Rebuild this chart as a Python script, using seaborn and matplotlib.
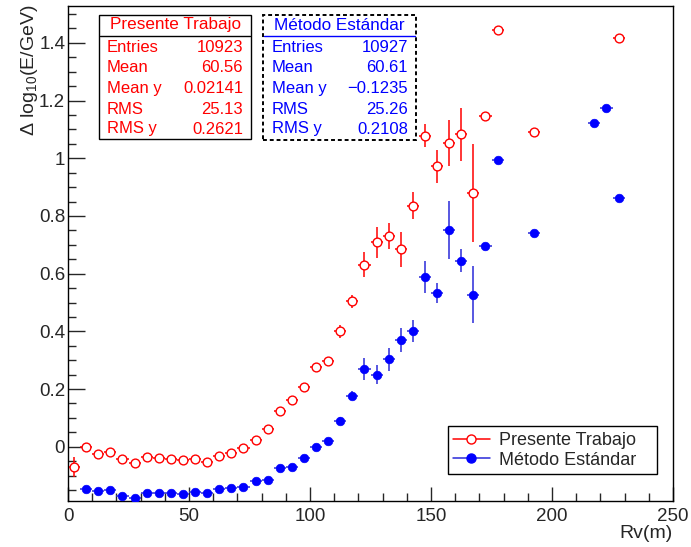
import numpy as np
import pandas as pd
import matplotlib
matplotlib.use("Agg")
import matplotlib.pyplot as plt
from matplotlib.lines import Line2D
from matplotlib.patches import Rectangle
import seaborn as sns

# ---------------- data ----------------
x_red = [2.5, 7.5, 12.5, 17.5, 22.5, 27.5, 32.5, 37.5, 42.5, 47.5, 52.5, 57.5,
         62.5, 67.5, 72.5, 77.5, 82.5, 87.5, 92.5, 97.5, 102.5, 107.5, 112.5,
         117.5, 122.5, 127.5, 132.5, 137.5, 142.5, 147.5, 152.5, 157.5, 162.5,
         167.5, 172.5, 177.5, 192.5, 227.5]
y_red = [-0.071, -0.002, -0.025, -0.017, -0.044, -0.058, -0.035, -0.039, -0.044,
         -0.046, -0.044, -0.052, -0.032, -0.021, -0.006, 0.023, 0.060, 0.124,
         0.162, 0.206, 0.277, 0.298, 0.400, 0.504, 0.631, 0.709, 0.730, 0.684,
         0.836, 1.078, 0.973, 1.054, 1.083, 0.879, 1.146, 1.444, 1.092, 1.416]
e_red = [0.035, 0.014, 0.012, 0.012, 0.012, 0.012, 0.012, 0.012, 0.012, 0.012,
         0.012, 0.012, 0.012, 0.012, 0.012, 0.012, 0.012, 0.012, 0.012, 0.012,
         0.013, 0.014, 0.023, 0.023, 0.043, 0.053, 0.046, 0.061, 0.047, 0.040,
         0.057, 0.079, 0.092, 0.170, 0.004, 0.003, 0.003, 0.003]

x_blue = [7.5, 12.5, 17.5, 22.5, 27.5, 32.5, 37.5, 42.5, 47.5, 52.5, 57.5, 62.5,
          67.5, 72.5, 77.5, 82.5, 87.5, 92.5, 97.5, 102.5, 107.5, 112.5, 117.5,
          122.5, 127.5, 132.5, 137.5, 142.5, 147.5, 152.5, 157.5, 162.5, 167.5,
          172.5, 177.5, 192.5, 217.5, 222.5, 227.5]
y_blue = [-0.146, -0.154, -0.150, -0.170, -0.179, -0.162, -0.159, -0.159, -0.163,
          -0.158, -0.159, -0.147, -0.144, -0.140, -0.119, -0.115, -0.074, -0.070,
          -0.038, 0.000, 0.019, 0.090, 0.177, 0.268, 0.250, 0.304, 0.370, 0.401,
          0.588, 0.534, 0.751, 0.645, 0.527, 0.695, 0.993, 0.741, 1.123, 1.176, 0.863]
e_blue = [0.008, 0.008, 0.008, 0.008, 0.008, 0.008, 0.008, 0.008, 0.008, 0.008,
          0.008, 0.008, 0.008, 0.008, 0.008, 0.008, 0.008, 0.008, 0.008, 0.008,
          0.010, 0.012, 0.015, 0.038, 0.032, 0.040, 0.040, 0.039, 0.055, 0.034,
          0.100, 0.040, 0.099, 0.003, 0.003, 0.003, 0.003, 0.003, 0.003]
bin_half = 2.5

series_names = ["Presente Trabajo", "Método Estándar"]
stat_labels = ["Entries", "Mean", "Mean y", "RMS", "RMS y"]
stat_red = ["10923", "60.56", "0.02141", "25.13", "0.2621"]
stat_blue = ["10927", "60.61", "\u22120.1235", "25.26", "0.2108"]
x_ticks = [0, 50, 100, 150, 200, 250]
y_ticks = [0, 0.2, 0.4, 0.6, 0.8, 1.0, 1.2, 1.4]
y_ticklabels = ["0", "0.2", "0.4", "0.6", "0.8", "1", "1.2", "1.4"]

# ---------------- style ----------------
sns.set_style("white")
plt.rcParams["font.family"] = ["Liberation Sans", "DejaVu Sans"]
plt.rcParams["mathtext.fontset"] = "custom"
plt.rcParams["mathtext.rm"] = "Liberation Sans"
plt.rcParams["mathtext.it"] = "Liberation Sans:italic"

W, H = 691, 547
fig = plt.figure(figsize=(W / 100, H / 100), dpi=100)
ax = fig.add_axes([68 / W, 1 - 501 / H, (673 - 68) / W, (501 - 6) / H])

RED = "#ff0000"
BLUE = "#0000ff"
BLUE_ERR = "#2a2ad8"

df_red = pd.DataFrame({"x": x_red, "y": y_red, "e": e_red})
df_blue = pd.DataFrame({"x": x_blue, "y": y_blue, "e": e_blue})

ax.errorbar(df_red["x"], df_red["y"], yerr=df_red["e"], xerr=bin_half,
            fmt="none", ecolor=RED, elinewidth=1.1, capsize=0, zorder=2)
ax.errorbar(df_blue["x"], df_blue["y"], yerr=df_blue["e"], xerr=bin_half,
            fmt="none", ecolor=BLUE_ERR, elinewidth=1.1, capsize=0, zorder=2)
sns.scatterplot(data=df_red, x="x", y="y", ax=ax, marker="o", s=40,
                facecolor="white", edgecolor=RED, linewidth=1.0, zorder=3, legend=False)
sns.scatterplot(data=df_blue, x="x", y="y", ax=ax, marker="o", s=38,
                color=BLUE, edgecolor=BLUE, linewidth=0.5, zorder=3, legend=False)

ax.set_xlim(0, 250)
ax.set_ylim(-0.188, 1.528)
ax.set_xticks(x_ticks)
ax.set_xticks(np.arange(0, 251, 10), minor=True)
ax.set_yticks(y_ticks)
ax.set_yticklabels(y_ticklabels)
ax.set_yticks(np.arange(-0.15, 1.53, 0.05), minor=True)
ax.tick_params(axis="x", which="major", direction="in", length=10, width=1,
               labelsize=13.5, pad=5, top=False, bottom=True)
ax.tick_params(axis="x", which="minor", direction="in", length=5.5, width=1,
               top=False, bottom=True)
ax.tick_params(axis="y", which="major", direction="in", length=12, width=1,
               labelsize=13.5, pad=2, left=True, right=False)
ax.tick_params(axis="y", which="minor", direction="in", length=6, width=1,
               left=True, right=False)
for sp in ax.spines.values():
    sp.set_visible(True)
    sp.set_color("black")
    sp.set_linewidth(1.0)

ax.set_xlabel("")
ax.set_ylabel("")
fig.text(673 / W, 1 - 533 / H, "Rv(m)", ha="right", va="center", fontsize=14)
fig.text(30 / W, 1 - 4 / H, r"$\Delta$ log$_{10}$(E/GeV)", ha="center", va="top",
         rotation=90, fontsize=14)

# legend
handles = [
    Line2D([0], [0], color=RED, lw=1.1, marker="o", ms=6.5, mfc="white", mec=RED, mew=1.0),
    Line2D([0], [0], color=BLUE_ERR, lw=1.1, marker="o", ms=6.5, mfc=BLUE, mec=BLUE),
]
leg = ax.legend(handles, series_names, loc="lower left", mode="expand",
                bbox_to_anchor=((448 - 68) / 605, (501 - 474) / 495,
                                (657 - 448) / 605, (474 - 428) / 495),
                fontsize=13, frameon=True, fancybox=False, edgecolor="black",
                framealpha=1, borderpad=0.3, handlelength=2.0, handletextpad=0.5,
                labelspacing=0.15, borderaxespad=0)
leg.get_frame().set_linewidth(1.0)


def P(x, y):
    return (x / W, 1 - y / H)


# stat boxes
def stat_box(x0, x1, y0, y1, title, labels, values, color, dashed, lx, vx):
    rect = Rectangle(P(x0, y1), (x1 - x0) / W, (y1 - y0) / H, transform=fig.transFigure,
                     facecolor="white", edgecolor="black", linewidth=1.4 if dashed else 1.0,
                     linestyle=(0, (2, 1.5)) if dashed else "-", zorder=5)
    fig.add_artist(rect)
    sep_color = color if dashed else "black"
    fig.add_artist(Line2D([(x0 + 1) / W, (x1 - 1) / W], [1 - 36 / H, 1 - 36 / H],
                          transform=fig.transFigure, color=sep_color, lw=1.0, zorder=6))
    fig.text(*P((x0 + x1) / 2, 25), title, ha="center", va="center", color=color,
             fontsize=12.3, zorder=7)
    rows_y = [47, 68, 88.5, 109, 129]
    for lab, val, yy in zip(labels, values, rows_y):
        fig.text(*P(lx, yy), lab, ha="left", va="center", color=color, fontsize=12, zorder=7)
        fig.text(*P(vx, yy), val, ha="right", va="center", color=color, fontsize=12, zorder=7)


stat_box(99, 251, 15, 139, series_names[0], stat_labels, stat_red, RED, False, 107, 243)
stat_box(263, 416, 15, 140, series_names[1], stat_labels, stat_blue, BLUE, True, 272, 408)

fig.savefig("out.png", dpi=100)
